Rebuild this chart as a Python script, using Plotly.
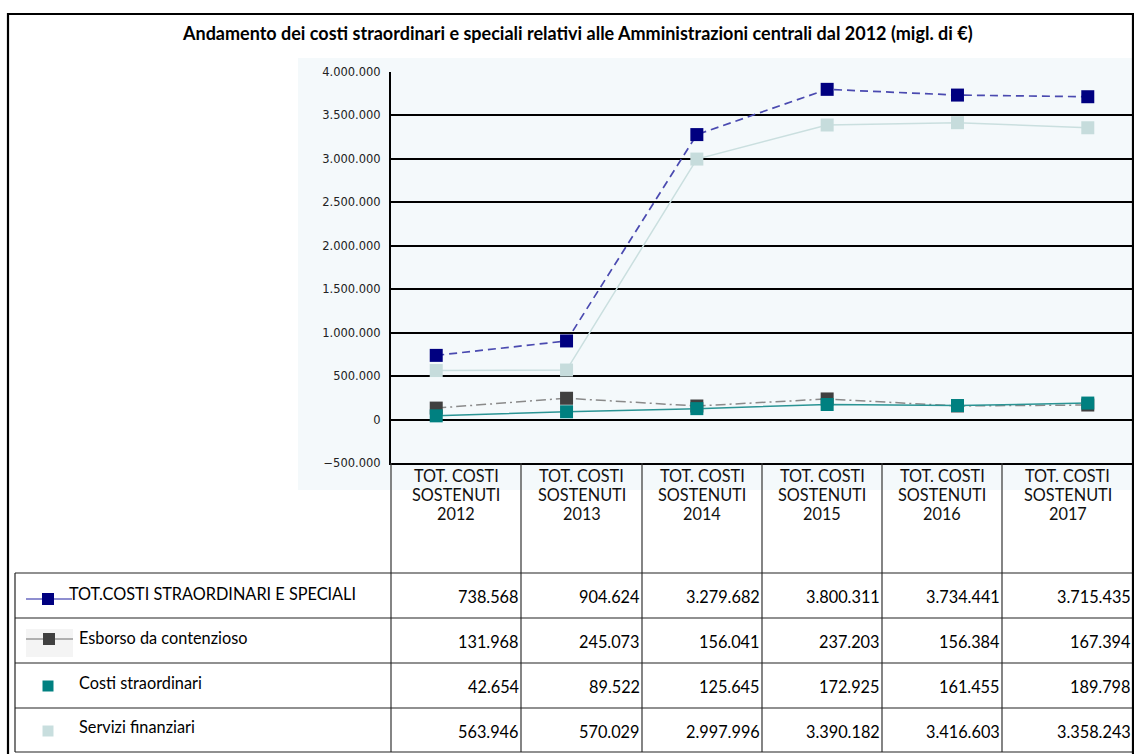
import plotly.graph_objects as go

# ---------------- data ----------------
years = ["2012", "2013", "2014", "2015", "2016", "2017"]
header_lines = ["TOT. COSTI", "SOSTENUTI"]
series_names = ["TOT.COSTI STRAORDINARI E SPECIALI", "Esborso da contenzioso",
                "Costi straordinari", "Servizi finanziari"]
tot = [738568, 904624, 3279682, 3800311, 3734441, 3715435]
esborso = [131968, 245073, 156041, 237203, 156384, 167394]
costi = [42654, 89522, 125645, 172925, 161455, 189798]
servizi = [563946, 570029, 2997996, 3390182, 3416603, 3358243]
y_ticks = [-500000, 0, 500000, 1000000, 1500000, 2000000, 2500000, 3000000, 3500000, 4000000]
title = "Andamento dei costi straordinari e speciali relativi alle Amministrazioni centrali dal 2012 (migl. di €)"

# ---------------- layout constants ----------------
W, H = 1134, 754
def px(x): return x / W
def py(y): return 1 - y / H

PLOT_L, PLOT_R, PLOT_T, PLOT_B = 391, 1133, 72, 463
col_edges = [391, 521, 642, 762, 882, 1002, 1133]
row_edges = [573, 618, 663, 708, 752]
FONT = "Lato"
TXT = 16.3

fig = go.Figure()

styles = {
    "Servizi finanziari": dict(line=dict(color="#cadfdf", width=1.5), marker=dict(color="#c6dcdc", size=13, symbol="square")),
    "Esborso da contenzioso": dict(line=dict(color="#8a8a8a", width=1.5, dash="10px,4px,2px,4px"), marker=dict(color="#404040", size=13, symbol="square")),
    "Costi straordinari": dict(line=dict(color="#2a9494", width=1.5), marker=dict(color="#008080", size=13, symbol="square")),
    "TOT.COSTI STRAORDINARI E SPECIALI": dict(line=dict(color="#4a4ab0", width=1.7, dash="8px,5px"), marker=dict(color="#000080", size=13, symbol="square")),
}
values = {
    "TOT.COSTI STRAORDINARI E SPECIALI": tot,
    "Esborso da contenzioso": esborso,
    "Costi straordinari": costi,
    "Servizi finanziari": servizi,
}
for name in ["Servizi finanziari", "Esborso da contenzioso", "Costi straordinari", "TOT.COSTI STRAORDINARI E SPECIALI"]:
    fig.add_trace(go.Scatter(x=years, y=values[name], mode="lines+markers", name=name,
                             showlegend=False, **styles[name]))

shapes = []
# panel background
shapes.append(dict(type="rect", xref="paper", yref="paper", x0=px(298), x1=px(1133), y0=py(490), y1=py(58),
                   fillcolor="#f4f9fb", line=dict(width=0), layer="below"))
# table header vertical lines
for x in col_edges[:-1]:
    shapes.append(dict(type="line", xref="paper", yref="paper", x0=px(x), x1=px(x), y0=py(PLOT_B), y1=py(752),
                       line=dict(color="#333333", width=1.2)))
# table horizontal lines
for y in row_edges:
    shapes.append(dict(type="line", xref="paper", yref="paper", x0=px(15), x1=px(1133), y0=py(y), y1=py(y),
                       line=dict(color="#222222", width=1.2)))
shapes.append(dict(type="line", xref="paper", yref="paper", x0=px(15), x1=px(15), y0=py(573), y1=py(752),
                   line=dict(color="#222222", width=1.2)))
# outer border
shapes.append(dict(type="rect", xref="paper", yref="paper", x0=px(8), x1=px(1133), y0=py(760), y1=py(14),
                   line=dict(color="#000000", width=2.2)))

# legend symbols in table rows
def sq(cx, cy, s, color):
    return dict(type="rect", xref="paper", yref="paper", x0=px(cx - s / 2), x1=px(cx + s / 2),
                y0=py(cy + s / 2), y1=py(cy - s / 2), fillcolor=color, line=dict(width=0))
shapes.append(dict(type="line", xref="paper", yref="paper", x0=px(26), x1=px(72), y0=py(599), y1=py(599),
                   line=dict(color="#6a6ac0", width=1.5)))
shapes.append(sq(48, 599, 12, "#000080"))
shapes.append(dict(type="rect", xref="paper", yref="paper", x0=px(26), x1=px(73), y0=py(657), y1=py(629),
                   fillcolor="#f4f4f4", line=dict(width=0)))
shapes.append(dict(type="line", xref="paper", yref="paper", x0=px(26), x1=px(73), y0=py(639), y1=py(639),
                   line=dict(color="#b0b0b0", width=2)))
shapes.append(sq(49, 639, 12, "#404040"))
shapes.append(sq(48, 686, 11, "#008080"))
shapes.append(sq(48, 731, 11, "#c8dede"))

annotations = []
annotations.append(dict(text="<b>" + title + "</b>", xref="paper", yref="paper", x=px(577), y=py(33),
                        xanchor="center", yanchor="middle", showarrow=False,
                        font=dict(family=FONT, size=18, color="#000000")))
# header labels (category names) centered in table columns
header_y = [475, 494, 513]
for j, yr in enumerate(years):
    cx = (col_edges[j] + col_edges[j + 1]) / 2
    for k, t in enumerate(header_lines + [yr]):
        annotations.append(dict(text=t, xref="paper", yref="paper", x=px(cx), y=py(header_y[k]),
                                xanchor="center", yanchor="middle", showarrow=False, borderpad=0,
                                font=dict(family=FONT, size=TXT, color="#111111")))
label_x = [68, 78, 78, 78]
label_y = [593, 637, 682, 726]
value_y = [596, 641, 686, 731]
for i, name in enumerate(series_names):
    annotations.append(dict(text=name, xref="paper", yref="paper", x=px(label_x[i]), y=py(label_y[i]),
                            xanchor="left", yanchor="middle", showarrow=False, borderpad=0,
                            font=dict(family=FONT, size=TXT, color="#000000")))
    for j, v in enumerate(values[name]):
        annotations.append(dict(text=f"{v:,}".replace(",", "."), xref="paper", yref="paper",
                                x=px(col_edges[j + 1] - 1), y=py(value_y[i]),
                                xanchor="right", yanchor="middle", showarrow=False, borderpad=0,
                                font=dict(family=FONT, size=TXT, color="#000000")))

fig.update_layout(
    width=W, height=H, autosize=False,
    margin=dict(l=0, r=0, t=0, b=0, pad=0, autoexpand=False),
    paper_bgcolor="#ffffff", plot_bgcolor="rgba(0,0,0,0)",
    separators=",.",
    shapes=shapes, annotations=annotations,
    xaxis=dict(domain=[px(PLOT_L), px(PLOT_R)], type="category", categoryorder="array",
               categoryarray=years, showticklabels=False, showgrid=False, showline=True,
               linecolor="#000000", linewidth=1.5, ticks="", fixedrange=True, automargin=False),
    yaxis=dict(domain=[py(PLOT_B), py(PLOT_T)], range=[-500000, 4000000], tickmode="array",
               tickvals=y_ticks, tickformat=",d", showgrid=True, gridcolor="#000000", gridwidth=1.5,
               zeroline=True, zerolinecolor="#000000", zerolinewidth=1.5,
               showline=True, linecolor="#000000", linewidth=2, ticks="", ticklabelstandoff=6,
               tickfont=dict(family="DejaVu Sans", size=11.5, color="#222222"), fixedrange=True,
               automargin=False),
)

post = ("var s=document.createElement('style');"
        "s.innerHTML='html,body{margin:0;padding:0;overflow:hidden;width:1134px;height:754px}';"
        "document.head.appendChild(s);"
        "var d=document.getElementById('{plot_id}');"
        "d.style.position='fixed';d.style.top='0px';d.style.left='0px';")
fig.write_html("out.html", config={"displayModeBar": False, "responsive": False}, post_script=post)
